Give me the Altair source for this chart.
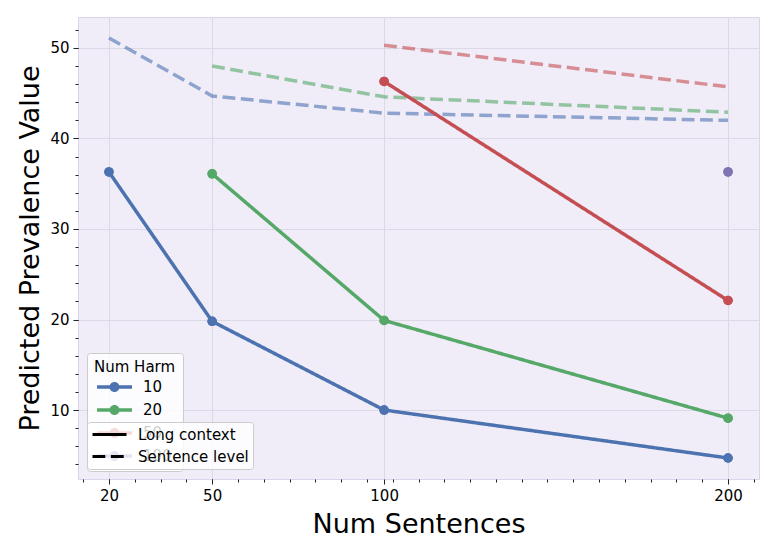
import altair as alt
import pandas as pd

# ---- data ----
sentences = [20, 50, 100, 200]
harm_levels = ["10", "20", "50", "100"]
methods = ["Long context", "Sentence level"]
harm_colors = ["#4C72B0", "#55A868", "#C44E52", "#8172B2"]

long_10 = [36.3, 19.8, 10.0, 4.7]
long_20 = [None, 36.1, 19.9, 9.1]
long_50 = [None, None, 46.3, 22.1]
long_100 = [None, None, None, 36.3]

sent_10 = [51.1, 44.7, 42.8, 42.0]
sent_20 = [None, 48.0, 44.6, 42.9]
sent_50 = [None, None, 50.3, 45.7]
sent_100 = [None, None, None, None]

x_major = [20, 50, 100, 200]
y_major = [10, 20, 30, 40, 50]
x_minor = [12.5 + 7.5 * k for k in range(27)]
y_minor = list(range(4, 54, 2))

rows = []
for method, series in [("Long context", [long_10, long_20, long_50, long_100]),
                       ("Sentence level", [sent_10, sent_20, sent_50, sent_100])]:
    for h, vals in zip(harm_levels, series):
        for s, v in zip(sentences, vals):
            if v is not None:
                rows.append({"sentences": s, "harm": h, "method": method, "value": v})
df = pd.DataFrame(rows)

FONT = "DejaVu Sans"
DASH = [12.8, 5.6]
x_scale = alt.Scale(domain=[11, 209], nice=False, zero=False)
y_scale = alt.Scale(domain=[2.38, 53.42], nice=False, zero=False)

common_axis = dict(labelFont=FONT, labelFontSize=15, labelColor="black",
                   titleFont=FONT, titleFontSize=27, titleFontWeight="normal",
                   titleColor="black", titleBaseline="alphabetic",
                   tickColor="#222222", tickSize=5, tickWidth=1, labelPadding=4,
                   domain=False, grid=True, gridColor="#dcd9e6", gridWidth=1)

x_enc = alt.X("sentences:Q", scale=x_scale,
              axis=alt.Axis(values=x_major, title="Num Sentences", titleY=53, **common_axis))
y_enc = alt.Y("value:Q", scale=y_scale,
              axis=alt.Axis(values=y_major, title="Predicted Prevalence Value", titleX=-40, **common_axis))

color_scale = alt.Scale(domain=harm_levels, range=harm_colors)

legend_bg = dict(fillColor="rgba(255,255,255,0.8)", strokeColor="#cccccc", cornerRadius=3,
                 labelFont=FONT, labelFontSize=15, labelColor="black")

harm_legend = alt.Legend(
    title="Num Harm", orient="none", legendX=9, legendY=336,
    symbolType="M-0.625,-0.219H3.75V0.219H-0.625Z M2.1875,0A0.625,0.625,0,1,1,0.9375,0A0.625,0.625,0,1,1,2.1875,0Z",
    symbolSize=256, symbolStrokeWidth=0, symbolOpacity=1,
    titleFont=FONT, titleFontSize=15, titleFontWeight="normal",
    titleColor="black", titlePadding=4, padding=7, rowPadding=7,
    labelOffset=33, zindex=1, **legend_bg)

color_enc = alt.Color("harm:N", scale=color_scale, sort=harm_levels, legend=harm_legend)

long_df = alt.Chart(df).transform_filter(alt.datum.method == "Long context")
sent_df = alt.Chart(df).transform_filter(alt.datum.method == "Sentence level")

points_base = long_df.mark_circle(size=90, opacity=1).encode(x=x_enc, y=y_enc, color=color_enc)

solid = long_df.mark_line(strokeWidth=3.5).encode(
    x=x_enc, y=y_enc, color=color_enc,
    strokeDash=alt.StrokeDash(
        "method:N",
        scale=alt.Scale(domain=methods, range=[[1, 0], DASH]),
        legend=alt.Legend(title=None, orient="none", legendX=9, legendY=405,
                          symbolType="M-1,0H3.857", symbolSize=196,
                          symbolStrokeColor="black", symbolStrokeWidth=3,
                          symbolOpacity=1, padding=4, rowPadding=5, labelOffset=30,
                          zindex=2, **legend_bg)),
)

dashed = sent_df.mark_line(strokeWidth=3.5, opacity=0.6, strokeDash=DASH).encode(
    x=x_enc, y=y_enc, color=color_enc,
)

minor_axis = dict(labels=False, grid=False, domain=False, ticks=True, tickSize=3,
                  tickWidth=1, tickColor="#222222", title=None)
minor = alt.Chart(df).mark_point(opacity=0).encode(
    x=alt.X("sentences:Q", scale=x_scale, axis=alt.Axis(orient="bottom", values=x_minor, **minor_axis)),
    y=alt.Y("value:Q", scale=y_scale, axis=alt.Axis(orient="left", values=y_minor, **minor_axis)),
)

chart = alt.layer(alt.layer(points_base, dashed, solid, points_base), minor).resolve_scale(
    x="independent", y="independent"
).properties(
    width=681, height=462,
    padding={"left": 70, "top": 9, "right": 10, "bottom": 60},
    autosize=alt.AutoSizeParams(type="none"),
).configure(font=FONT).configure_view(
    fill="#f0edf8", stroke="#d9d5ea", strokeWidth=1
)

chart.save("out.html", embed_options={"renderer": "svg", "actions": False})
